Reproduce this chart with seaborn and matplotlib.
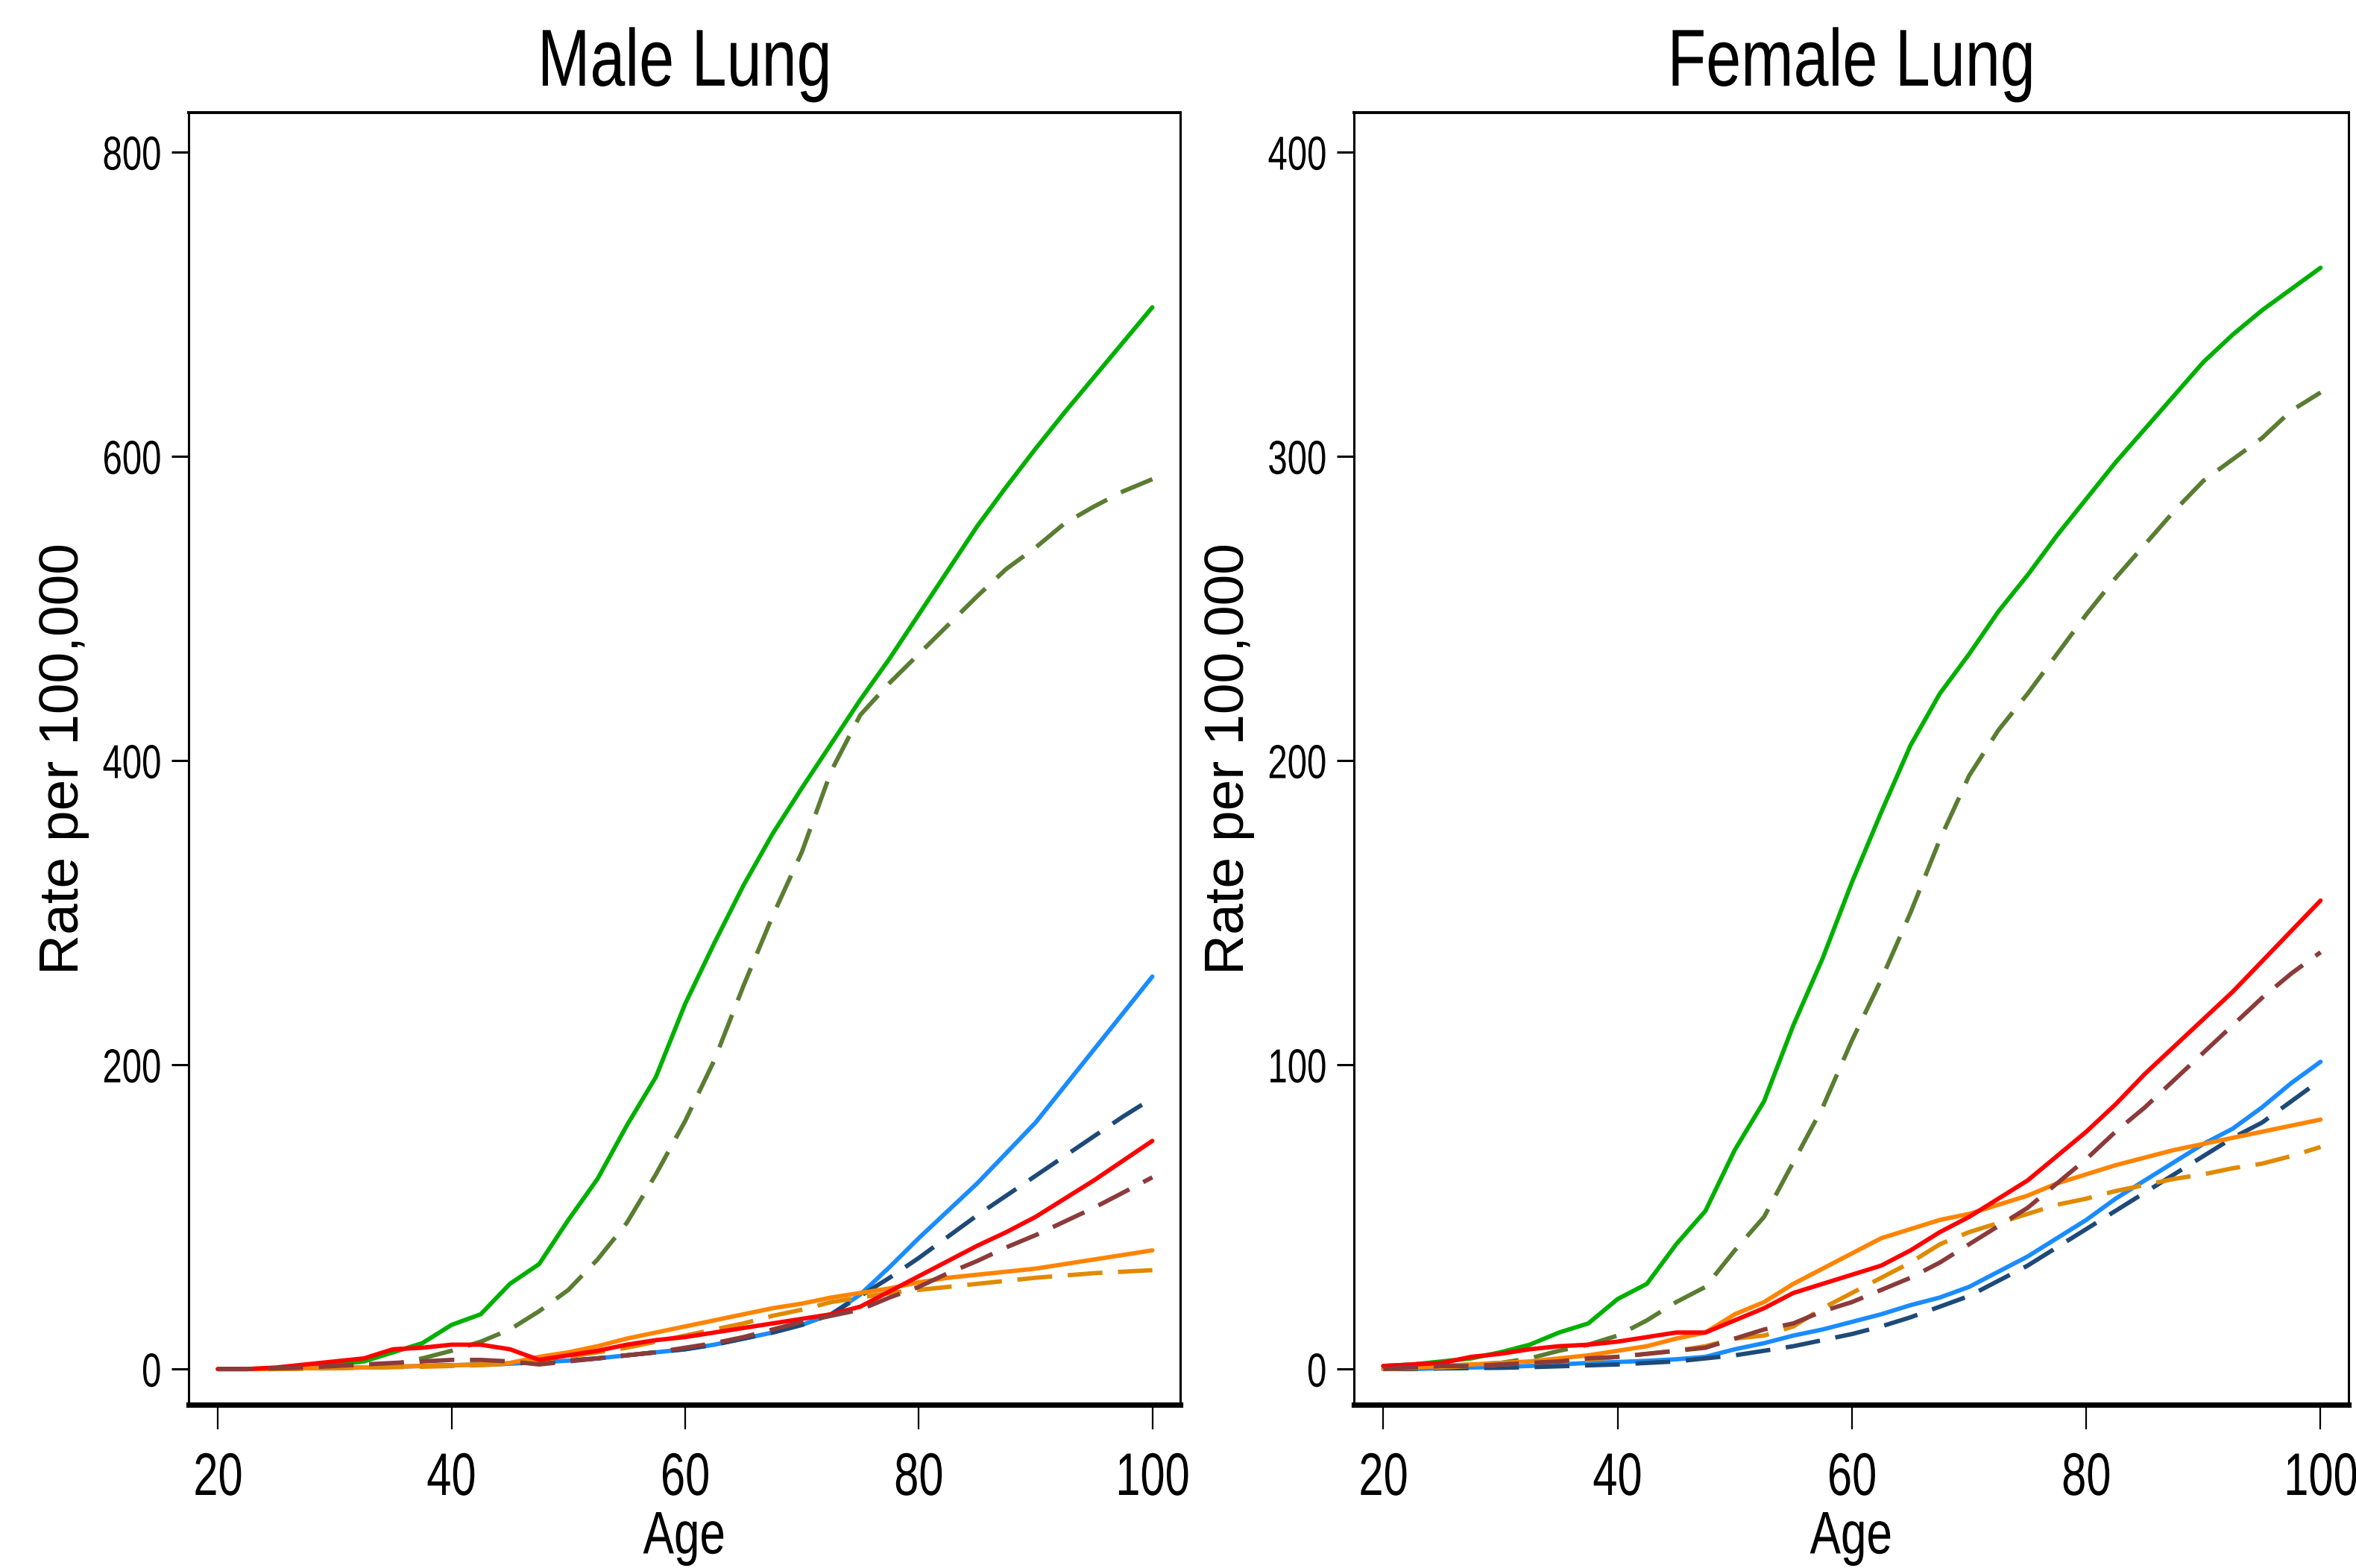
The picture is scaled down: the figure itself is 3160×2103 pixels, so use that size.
import matplotlib
matplotlib.use("Agg")
import matplotlib.pyplot as plt
from matplotlib import patheffects
from matplotlib.transforms import Affine2D
import seaborn as sns
import pandas as pd

# Altersraster (alle 2.5 Jahre)
ages = [20, 22.5, 25, 27.5, 30, 32.5, 35, 37.5, 40, 42.5, 45, 47.5, 50, 52.5, 55, 57.5,
        60, 62.5, 65, 67.5, 70, 72.5, 75, 77.5, 80, 82.5, 85, 87.5, 90, 92.5, 95, 97.5, 100]

# --- Male Lung ---
male_green = [0, 0, 0.5, 1.5, 3, 5, 11, 17, 29, 36, 56, 69, 98, 125, 160, 192,
              240, 280, 318, 352, 382, 411, 440, 467, 496, 525, 554, 580, 605, 629, 652, 675, 698]
male_green_dash = [0, 0, 0.5, 1, 1.5, 2, 3, 7, 12, 18, 26, 38, 52, 72, 96, 128,
                   163, 203, 252, 298, 340, 393, 430, 451, 470, 489, 508, 526, 540, 556, 567, 577, 585]
male_blue = [0, 0, 0, 0.5, 1, 1, 1.5, 2, 2.5, 3, 3.5, 4.5, 5.5, 7, 9, 11,
             13, 16, 20, 24, 29, 36, 49, 67, 86, 104, 122, 142, 162, 186, 210, 234, 258]
male_blue_dash = [0, 0, 0, 0.5, 1, 1, 1.5, 2, 2.5, 3, 3.5, 4.5, 5.5, 7, 9, 11,
                  13, 16, 20, 24, 29, 36, 48, 60, 73, 87, 101, 114, 127, 140, 153, 166, 178]
male_orange = [0, 0, 0, 0.5, 0.5, 1, 1.5, 2, 2.5, 3, 4, 8, 11, 15, 20, 24,
               28, 32, 36, 40, 43, 47, 50, 53, 57, 60, 62, 64, 66, 69, 72, 75, 78]
male_orange_dash = [0, 0, 0, 0.3, 0.5, 1, 1.2, 1.5, 2, 2.5, 3.5, 6, 8, 11, 14, 18,
                    22, 26, 30, 35, 39, 44, 47, 50, 52, 54, 56, 58, 60, 61.5, 63, 64, 65]
male_red = [0, 0, 1, 3, 5, 7, 13, 14, 16, 16, 13, 6, 9, 12, 16, 19,
            21, 24, 27, 30, 33, 36, 41, 51, 61, 71, 81, 90, 100, 112, 124, 137, 150]
male_red_dash = [0, 0, 0.5, 1, 2, 3, 4, 5, 6, 6, 5, 3, 5, 7, 9, 11,
                 14, 17, 21, 26, 31, 35, 39, 47, 54, 63, 71, 80, 88, 97, 106, 116, 126]

# --- Female Lung ---
female_green = [1, 1.5, 2.5, 3.5, 5.5, 8, 12, 15, 23, 28, 41, 52, 72, 88, 113, 135,
                160, 183, 205, 222, 235, 249, 261, 274, 286, 298, 309, 320, 331, 340, 348, 355, 362]
female_green_dash = [0, 0.5, 1, 1.5, 2, 3.5, 6, 8, 11, 16, 22, 27, 39, 50, 68, 86,
                     108, 128, 150, 174, 195, 210, 222, 235, 248, 260, 271, 282, 292, 299, 306, 315, 321]
female_blue = [0, 0, 0.3, 0.5, 0.7, 1, 1.5, 2, 2.3, 2.7, 3.2, 4, 6.5, 8.5, 11, 13,
               15.5, 18, 21, 23.5, 27, 32, 37, 43, 49, 56, 62, 68, 74, 79, 86, 94, 101]
female_blue_dash = [0, 0, 0.2, 0.3, 0.4, 0.6, 0.9, 1.2, 1.5, 2, 2.5, 3.5, 4.5, 6, 7.5, 9.5,
                    11.5, 14, 17, 20.5, 24, 29, 34, 40, 46, 52, 58, 64, 70, 76, 81, 88, 95]
female_orange = [0, 0.5, 1, 1.5, 2, 2.5, 3.5, 4.5, 6, 7.5, 10, 12, 18, 22, 28, 33,
                 38, 43, 46, 49, 51, 54, 57, 61, 64, 67, 69.5, 72, 74, 76, 78, 80, 82]
female_orange_dash = [0, 0.3, 0.5, 1, 1.5, 2, 2.5, 3, 4, 5, 6, 7.5, 10, 11, 14, 20,
                      25, 30, 35, 41, 45, 48, 51, 54, 56, 58.5, 60.5, 62.5, 64, 66, 67.5, 70, 73]
female_red = [1, 1.5, 2, 4, 5, 6.5, 7.5, 8, 9, 10.5, 12, 12, 16, 20, 25, 28,
              31, 34, 39, 45, 50, 56, 62, 70, 78, 87, 97, 106, 115, 124, 134, 144, 154]
female_red_dash = [0, 0.5, 1, 1, 1.5, 2, 2.5, 3.5, 4, 5, 6, 7, 10, 13, 15, 19,
                   22, 26, 30, 35, 41, 47, 53, 61, 69, 78, 86, 95, 104, 113, 122, 130, 137]

series_order = ["green", "green_dash", "blue", "blue_dash",
                "orange", "orange_dash", "red", "red_dash"]
palette = {
    "green": "#00b000", "green_dash": "#5a7d32",
    "blue": "#1a8cff", "blue_dash": "#1d4a78",
    "orange": "#ff8400", "orange_dash": "#e08a00",
    "red": "#ff0000", "red_dash": "#8c3a3a",
}
dashes = {n: ((8, 3.6) if n.endswith("_dash") else "") for n in series_order}


def long_table(columns):
    rows = []
    for name, vals in zip(series_order, columns):
        for a, v in zip(ages, vals):
            rows.append((a, v, name))
    return pd.DataFrame(rows, columns=["Age", "Rate", "series"])


class Squeeze(patheffects.AbstractPathEffect):
    """Schmale Schrift nachbilden: Glyphen horizontal stauchen."""

    def __init__(self, sx, anchor="center"):
        super().__init__()
        self.sx = sx
        self.anchor = anchor

    def draw_path(self, renderer, gc, tpath, affine, rgbFace=None):
        ext = tpath.get_extents()
        x0 = {"left": ext.x0, "center": 0.5 * (ext.x0 + ext.x1), "right": ext.x1}[self.anchor]
        squeeze = Affine2D().translate(-x0, 0).scale(self.sx, 1).translate(x0, 0)
        renderer.draw_path(gc, tpath, squeeze + affine, rgbFace)


df_male = long_table([male_green, male_green_dash, male_blue, male_blue_dash,
                      male_orange, male_orange_dash, male_red, male_red_dash])
df_female = long_table([female_green, female_green_dash, female_blue, female_blue_dash,
                        female_orange, female_orange_dash, female_red, female_red_dash])

sns.set_style("white")
plt.rcParams["font.family"] = ["Liberation Sans", "DejaVu Sans"]
for key in ["text.color", "axes.labelcolor", "xtick.color", "ytick.color", "axes.edgecolor"]:
    plt.rcParams[key] = "black"

fig = plt.figure(figsize=(15.8, 10.515), dpi=200)
ax_m = fig.add_axes([0.0801, 0.1041, 0.4209, 0.8241])
ax_f = fig.add_axes([0.5747, 0.1041, 0.4222, 0.8241])

panels = [
    (ax_m, df_male, "Male Lung", (-23.5, 826), [0, 200, 400, 600, 800]),
    (ax_f, df_female, "Female Lung", (-11.75, 413), [0, 100, 200, 300, 400]),
]

for ax, d, title, ylim, yticks in panels:
    sns.lineplot(data=d, x="Age", y="Rate", hue="series", style="series",
                 hue_order=series_order, style_order=series_order,
                 palette=palette, dashes=dashes, linewidth=2.1,
                 legend=False, ax=ax)
    ax.set_xlim(17.5, 102.4)
    ax.set_ylim(*ylim)
    ax.set_xticks([20, 40, 60, 80, 100])
    ax.set_yticks(yticks)

    t = ax.set_title(title, fontsize=39, pad=13)
    t.set_path_effects([Squeeze(0.78, "center")])
    ax.set_xlabel("Age", fontsize=29)
    ax.xaxis.label.set_path_effects([Squeeze(0.77, "center")])
    ax.xaxis.set_label_coords(0.5, -0.081)
    ax.set_ylabel("Rate per 100,000", fontsize=27)
    ax.yaxis.set_label_coords(-0.100, 0.5)

    ax.tick_params(axis="x", direction="out", length=11.9, width=0.8, pad=10.4,
                   labelsize=29, bottom=True)
    ax.tick_params(axis="y", direction="out", length=8.3, width=1.1, pad=4.7,
                   labelsize=23, left=True)
    for tick in ax.xaxis.get_major_ticks():
        tick.label1.set_path_effects([Squeeze(0.74, "center")])
    for tick in ax.yaxis.get_major_ticks():
        tick.label1.set_path_effects([Squeeze(0.74, "right")])

    for side in ["left", "right"]:
        ax.spines[side].set_linewidth(1.1)
    ax.spines["top"].set_linewidth(1.4)
    ax.spines["bottom"].set_linewidth(2.6)
    for s in ax.spines.values():
        s.set_color("black")
        s.set_visible(True)
    ax.grid(False)

fig.savefig("out.png", dpi=200)
